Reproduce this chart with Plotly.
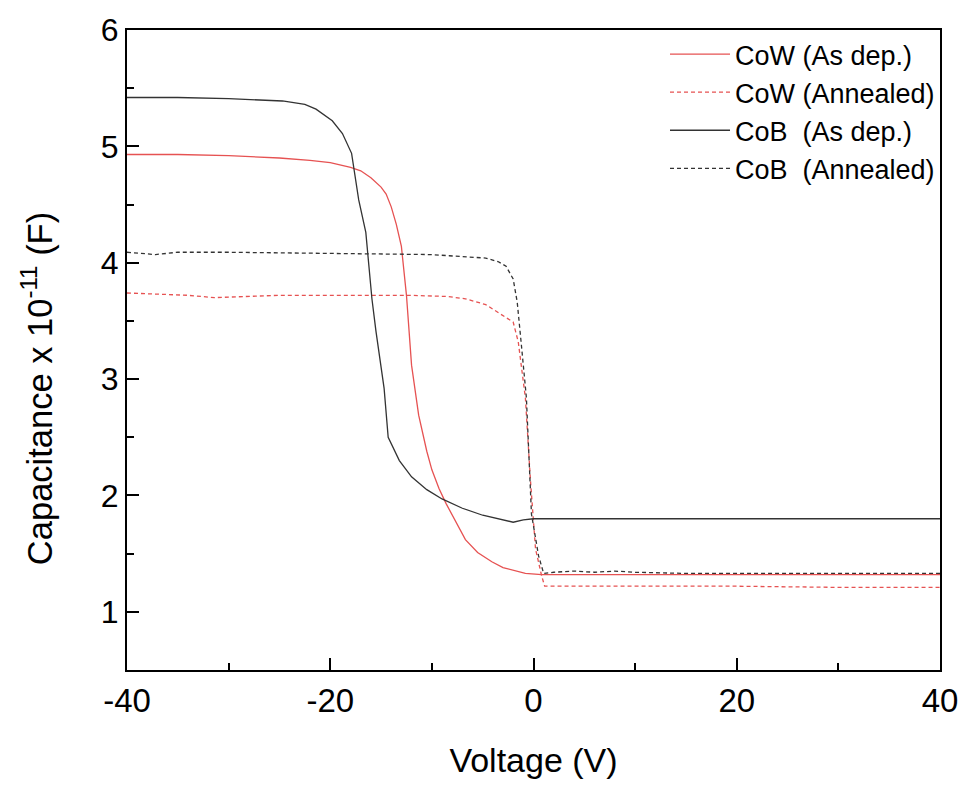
import plotly.graph_objects as go

# ---- data ----
cow_asdep_v = [-40, -35, -30, -25, -22, -20, -18, -17, -16, -15, -14.5, -14, -13.5, -13, -12.5, -12, -11.3,
               -10.5, -10, -9.3, -8.6, -7.6, -6.7, -5.5, -4.1, -3, -1.8, -0.8, 0.8, 10, 20, 30, 40]
cow_asdep_c = [4.93, 4.93, 4.92, 4.90, 4.88, 4.86, 4.82, 4.79, 4.73, 4.65, 4.59, 4.48, 4.33, 4.14, 3.72, 3.12, 2.69,
               2.38, 2.22, 2.06, 1.93, 1.76, 1.62, 1.51, 1.43, 1.38, 1.35, 1.33, 1.32, 1.32, 1.32, 1.32, 1.32]

cow_ann_v = [-40, -37, -34, -31.4, -28, -25, -20, -12.3, -8.5, -6.7, -4.7, -2.7, -2.0, -1.5, -0.8, -0.3, 0.2, 0.8,
             1.1, 5, 10, 20, 30, 40]
cow_ann_c = [3.74, 3.73, 3.72, 3.70, 3.71, 3.72, 3.72, 3.72, 3.71, 3.69, 3.64, 3.53, 3.49, 3.32, 2.84, 2.13, 1.54,
             1.31, 1.22, 1.22, 1.22, 1.22, 1.21, 1.21]

cob_asdep_v = [-40, -35, -30, -27, -24.7, -22.5, -21.4, -19.8, -18.8, -17.9, -17.2, -16.5, -15.9, -15.5, -14.7,
               -14.3, -13.2, -12, -10.5, -9, -7, -5, -3.5, -2, -1, 0, 10, 20, 30, 40]
cob_asdep_c = [5.42, 5.42, 5.41, 5.40, 5.39, 5.36, 5.32, 5.22, 5.11, 4.94, 4.54, 4.26, 3.69, 3.41, 2.92,
               2.50, 2.30, 2.16, 2.05, 1.97, 1.89, 1.83, 1.80, 1.77, 1.79, 1.80, 1.80, 1.80, 1.80, 1.80]

cob_ann_v = [-40, -38.5, -37.2, -35, -30, -20, -10, -8.3, -6, -4.7, -3.5, -2.7, -2.0, -1.6, -1.2, -0.7, -0.2,
             0.2, 0.5, 1.0, 2, 4, 6, 8, 10, 15, 20, 30, 40]
cob_ann_c = [4.09, 4.08, 4.07, 4.09, 4.09, 4.08, 4.07, 4.06, 4.05, 4.04, 4.01, 3.97, 3.86, 3.66, 3.30, 2.84, 1.84,
             1.62, 1.48, 1.33, 1.34, 1.35, 1.34, 1.35, 1.34, 1.33, 1.33, 1.33, 1.33]

series_names = ["CoW (As dep.)", "CoW (Annealed)", "CoB\u00a0 (As dep.)", "CoB\u00a0 (Annealed)"]

x_ticks = [-40, -20, 0, 20, 40]
y_ticks = [1, 2, 3, 4, 5, 6]

RED = "#e65252"
BLACK = "#333333"
FONT = "Liberation Sans, Arial, sans-serif"

fig = go.Figure()
fig.add_trace(go.Scatter(x=cow_asdep_v, y=cow_asdep_c, mode="lines", name=series_names[0],
                         line=dict(color=RED, width=1.3)))
fig.add_trace(go.Scatter(x=cow_ann_v, y=cow_ann_c, mode="lines", name=series_names[1],
                         line=dict(color=RED, width=1.3, dash="4px,3px")))
fig.add_trace(go.Scatter(x=cob_asdep_v, y=cob_asdep_c, mode="lines", name=series_names[2],
                         line=dict(color=BLACK, width=1.3)))
fig.add_trace(go.Scatter(x=cob_ann_v, y=cob_ann_c, mode="lines", name=series_names[3],
                         line=dict(color=BLACK, width=1.3, dash="4px,3px")))

fig.update_layout(
    width=970, height=785,
    margin=dict(l=127, r=27, t=28, b=110),
    paper_bgcolor="white", plot_bgcolor="white",
    font=dict(family=FONT, color="black"),
    showlegend=True,
    legend=dict(x=1, y=1.0, xanchor="right", yanchor="top", bgcolor="rgba(0,0,0,0)",
                font=dict(size=27, family=FONT), tracegroupgap=0, itemwidth=60),
    xaxis=dict(range=[-40, 40], tickmode="array", tickvals=x_ticks, ticktext=[str(v) for v in x_ticks],
               ticks="inside", ticklen=12, tickwidth=2, tickcolor="black",
               minor=dict(dtick=10, tick0=-40, ticks="inside", ticklen=7, tickwidth=1.5, tickcolor="black"),
               showline=True, linecolor="black", linewidth=2, mirror=True,
               showgrid=False, zeroline=False,
               tickfont=dict(size=33, family=FONT),
               title=dict(text="Voltage (V)", font=dict(size=34, family=FONT), standoff=31)),
    yaxis=dict(range=[0.5, 6], tickmode="array", tickvals=y_ticks, ticktext=[str(v) for v in y_ticks],
               ticks="inside", ticklen=12, tickwidth=2, tickcolor="black",
               minor=dict(dtick=0.5, tick0=0.5, ticks="inside", ticklen=7, tickwidth=1.5, tickcolor="black"),
               showline=True, linecolor="black", linewidth=2, mirror=True,
               showgrid=False, zeroline=False,
               tickfont=dict(size=32, family=FONT)),
    annotations=[dict(text="Capacitance x 10<sup>-11</sup> (F)", textangle=-90,
                      xref="paper", yref="paper", x=-0.111, y=0.44,
                      xanchor="center", yanchor="middle", showarrow=False,
                      font=dict(size=34.5, family=FONT, color="black"))],
)

fig.write_html("out.html", config={"displayModeBar": False},
               post_script="document.body.style.margin='0';")
